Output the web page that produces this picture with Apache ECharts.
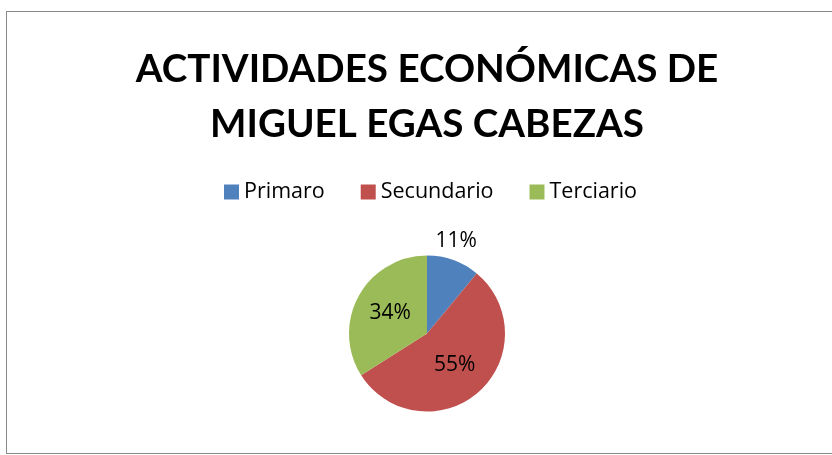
<!DOCTYPE html>
<html>
<head>
<meta charset="utf-8">
<script src="https://cdn.jsdelivr.net/npm/echarts@6/dist/echarts.min.js"></script>
<style>
html,body{margin:0;padding:0;background:#fff;overflow:hidden;}
#frame{position:absolute;left:6px;top:11px;width:840px;height:441px;border:1px solid #898989;}
#chart{position:absolute;left:0;top:0;width:832px;height:455px;}
</style>
</head>
<body>
<div id="frame"></div>
<div id="chart"></div>
<script>
const titleText = 'ACTIVIDADES ECONÓMICAS DE\nMIGUEL EGAS CABEZAS';
const categories = ['Primaro', 'Secundario', 'Terciario'];
const values = [11, 55, 34];
const colors = ['#4F81BD', '#C0504D', '#9BBB59'];

const chart = echarts.init(document.getElementById('chart'), null, {renderer: 'canvas'});
const TFONT = 'Lato, "Open Sans", sans-serif';
const FONT = '"Open Sans", Lato, sans-serif';
chart.setOption({
  animation: false,
  backgroundColor: 'transparent',
  title: {
    text: titleText,
    left: 422,
    textAlign: 'center',
    top: 37,
    textStyle: {fontFamily: TFONT, fontSize: 38.6, fontWeight: 'bold', color: '#000', lineHeight: 55}
  },
  legend: {
    data: categories,
    top: 176,
    left: 219,
    icon: 'rect',
    itemWidth: 15,
    itemHeight: 15,
    itemGap: 36,
    textStyle: {fontFamily: FONT, fontSize: 21.5, color: '#000'}
  },
  series: [{
    type: 'pie',
    center: [427, 333.5],
    radius: 78,
    startAngle: 90,
    clockwise: true,
    data: categories.map((c, i) => ({
      name: c,
      value: values[i],
      itemStyle: {color: colors[i]},
      label: i === 0 ? {position: 'outside'} : {position: 'inside'}
    })),
    label: {
      formatter: p => Math.round(p.percent) + '%',
      fontFamily: FONT,
      fontSize: 21,
      color: '#000'
    },
    labelLine: {show: false, length: 20, length2: 0},
    labelLayout: function (p) {
      if (p.dataIndex === 0) return {align: 'center', dx: -9};
      return {};
    },
    itemStyle: {borderWidth: 0}
  }]
});
</script>
</body>
</html>
